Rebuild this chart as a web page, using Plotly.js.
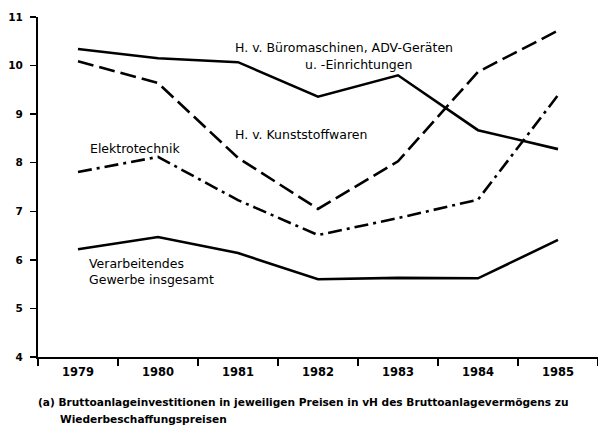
<!DOCTYPE html>
<html>
<head>
<meta charset="utf-8">
<script src="https://cdn.plot.ly/plotly-3.0.1.min.js"></script>
<style>
html,body{margin:0;padding:0;background:#fff;}
#chart{width:598px;height:425px;}
</style>
</head>
<body>
<div id="chart"></div>
<script>
const years = ['1979','1980','1981','1982','1983','1984','1985'];
const bueromaschinen = [10.34, 10.15, 10.07, 9.36, 9.80, 8.67, 8.28];
const kunststoffwaren = [10.09, 9.64, 8.10, 7.05, 8.03, 9.87, 10.72];
const elektrotechnik = [7.81, 8.12, 7.23, 6.51, 6.86, 7.24, 9.39];
const verarbeitendes = [6.22, 6.47, 6.14, 5.60, 5.63, 5.62, 6.41];
const yTicks = [4, 5, 6, 7, 8, 9, 10, 11];

const F = 'DejaVu Sans, sans-serif';
function line(y, dash, w) {
  return {x: years, y: y, type: 'scatter', mode: 'lines',
    line: {color: '#000', width: w, dash: dash}, hoverinfo: 'skip', showlegend: false};
}
const data = [
  line(bueromaschinen, 'solid', 2.6),
  line(kunststoffwaren, '16px,6px', 2.6),
  line(elektrotechnik, '14px,5px,3px,5px', 2.6),
  line(verarbeitendes, 'solid', 2.6)
];

function ann(text, x, y, size, bold) {
  return {text: text, x: x, y: y, xref: 'paper', yref: 'paper', xanchor: 'left', yanchor: 'middle',
    showarrow: false, font: {family: F, size: size, color: '#000', weight: bold ? 'bold' : 'normal'}};
}

const layout = {
  width: 598, height: 425,
  margin: {l: 38, r: 0, t: 17, b: 68},
  paper_bgcolor: '#fff', plot_bgcolor: '#fff',
  showlegend: false,
  xaxis: {type: 'category', range: [-0.5, 6.5], tickson: 'boundaries',
    ticks: 'outside', ticklen: 7, tickwidth: 1.5, tickcolor: '#000',
    showline: true, linecolor: '#000', linewidth: 1.5, showgrid: false, zeroline: false,
    ticklabelstandoff: 4,
    tickfont: {family: F, size: 11.5, color: '#000', weight: 'bold'}},
  yaxis: {range: [4, 11], tickvals: yTicks, ticktext: yTicks.map(String),
    ticks: 'outside', ticklen: 6, tickwidth: 1.5, tickcolor: '#000',
    showline: true, linecolor: '#000', linewidth: 2, showgrid: false, zeroline: false,
    ticklabelstandoff: 5,
    tickfont: {family: F, size: 10.5, color: '#000', weight: 'bold'}},
  annotations: [
    ann('H. v. Büromaschinen, ADV-Geräten', 0.348, 0.909, 12.5, false),
    ann('u. -Einrichtungen', 0.473, 0.859, 12.5, false),
    ann('H. v. Kunststoffwaren', 0.348, 0.653, 12.5, false),
    ann('Elektrotechnik', 0.089, 0.612, 12.5, false),
    ann('Verarbeitendes', 0.0875, 0.276, 12.5, false),
    ann('Gewerbe insgesamt', 0.0875, 0.229, 12.5, false),
    ann('(a) Bruttoanlageinvestitionen in jeweiligen Preisen in vH des Bruttoanlagevermögens zu', -0.004, -0.132, 10.6, true),
    ann('Wiederbeschaffungspreisen', 0.036, -0.182, 10.6, true)
  ]
};

Plotly.newPlot('chart', data, layout, {displayModeBar: false, staticPlot: true});
</script>
</body>
</html>
